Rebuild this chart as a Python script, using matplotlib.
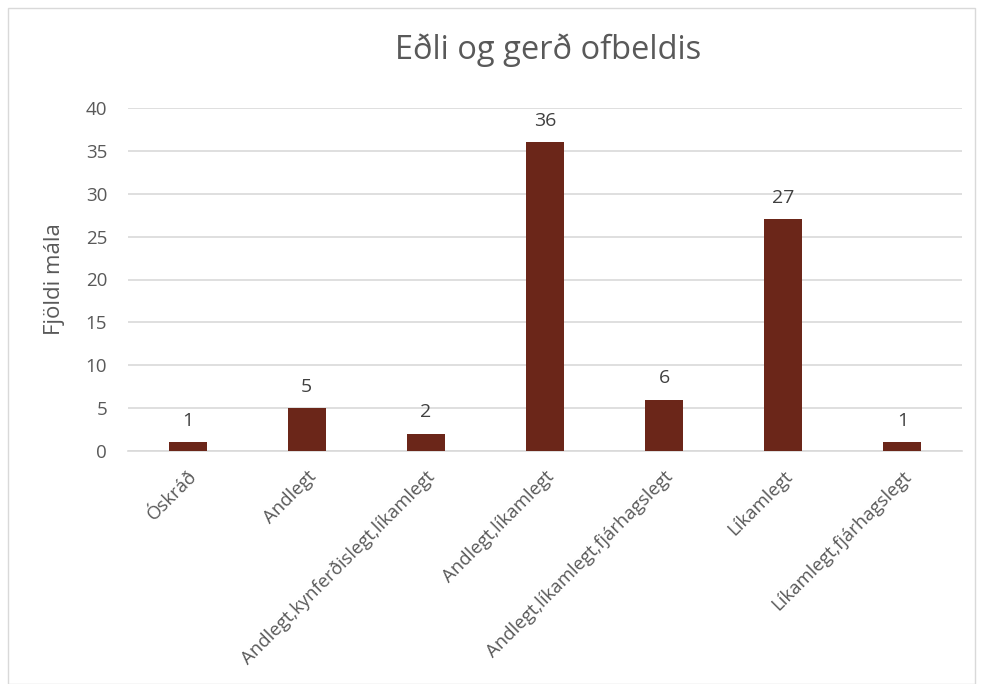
import matplotlib
matplotlib.use("Agg")
import matplotlib.pyplot as plt
from matplotlib.patches import Rectangle

categories = ["Óskráð", "Andlegt", "Andlegt,kynferðislegt,líkamlegt", "Andlegt,líkamlegt",
              "Andlegt,líkamlegt,fjárhagslegt", "Líkamlegt", "Líkamlegt,fjárhagslegt"]
values = [1, 5, 2, 36, 6, 27, 1]
yticks = [0, 5, 10, 15, 20, 25, 30, 35, 40]

plt.rcParams['font.family'] = ['Open Sans', 'DejaVu Sans']
txt = "#595959"
bar_color = "#6B2619"

fig = plt.figure(figsize=(9.82, 6.84), dpi=100)
fig.patches.append(Rectangle((8/982, 0), (975-8)/982, 1-8/684, transform=fig.transFigure,
                             fill=False, edgecolor="#D9D9D9", linewidth=1))
ax = fig.add_axes([128/982, 1-451/684, (962-128)/982, (451-108)/684])

x = list(range(len(categories)))
ax.bar(x, values, width=0.32, color=bar_color, zorder=3)
ax.set_xlim(-0.5, len(categories) - 0.5)
ax.set_ylim(0, 40)
ax.set_yticks(yticks)
ax.yaxis.grid(True, color="#D9D9D9", linewidth=1.2, zorder=0)
for s in ["top", "right", "left"]:
    ax.spines[s].set_visible(False)
ax.spines["bottom"].set_color("#D9D9D9")
ax.spines["bottom"].set_linewidth(1.2)
ax.tick_params(axis="both", length=0, colors=txt, labelsize=13.5)
ax.tick_params(axis="y", pad=15)
ax.set_xticks(x)
ax.set_xticklabels(categories, rotation=45, ha="right", rotation_mode="anchor", color=txt, fontsize=13.3)
ax.tick_params(axis="x", pad=12)
for xi, v in zip(x, values):
    ax.annotate(str(v), (xi, v), xytext=(0, 9), textcoords="offset points",
                ha="center", va="bottom", fontsize=14, color="#404040")
ax.set_ylabel("Fjöldi mála", fontsize=16, color=txt, labelpad=15)
fig.text(548/982, 1-50/684, "Eðli og gerð ofbeldis", ha="center", va="center", fontsize=23.5, color=txt)
fig.savefig("out.png", dpi=100)
